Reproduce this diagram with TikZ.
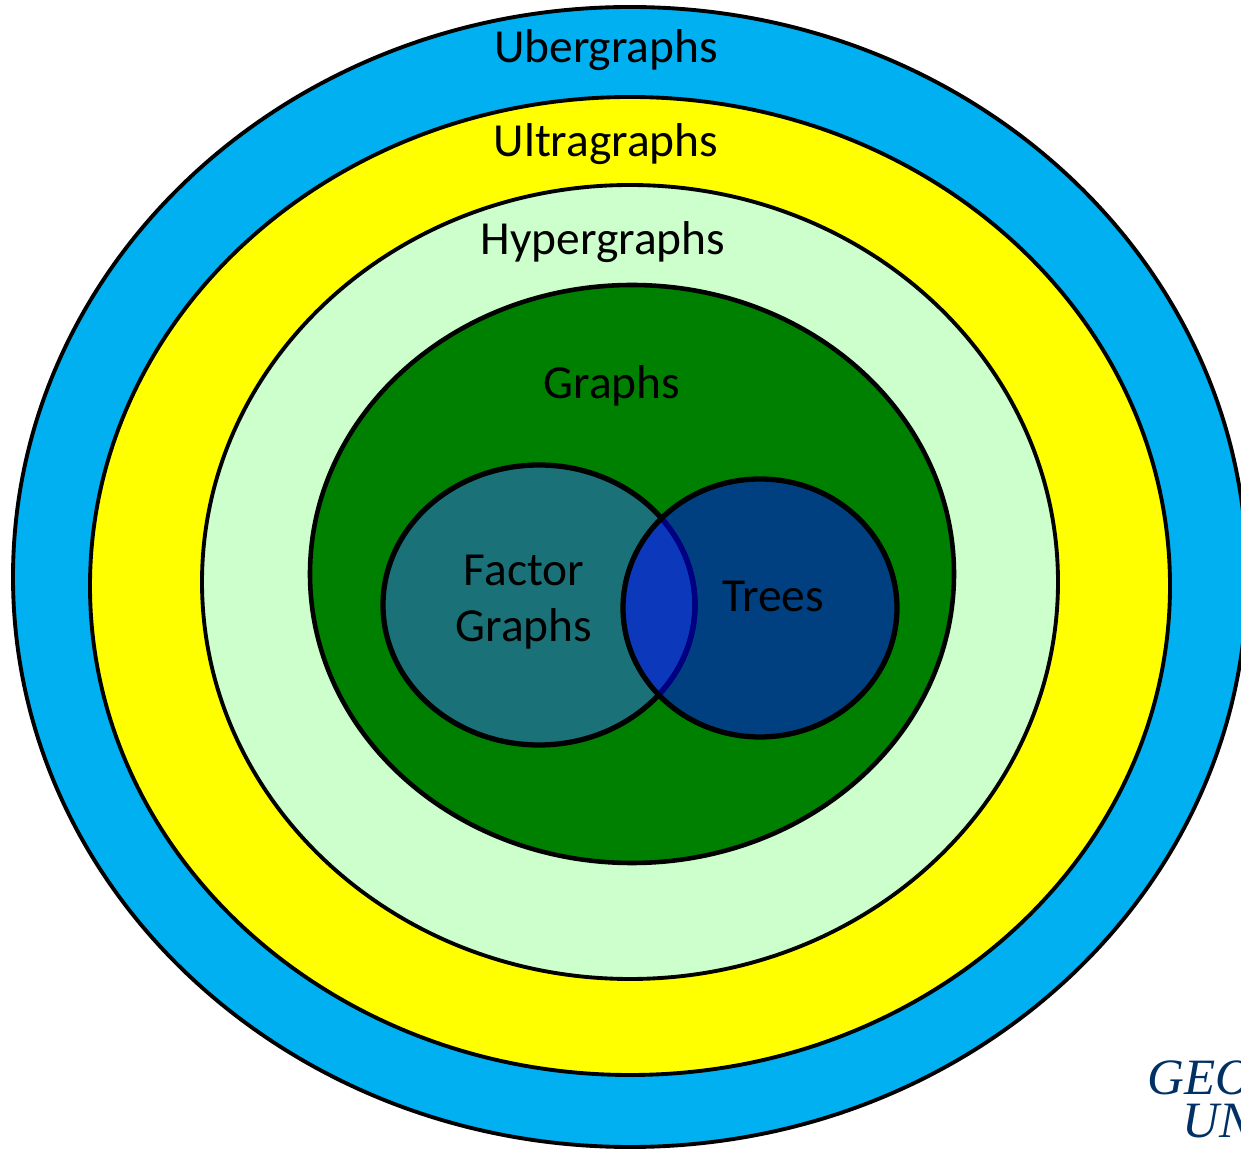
\documentclass[tikz,border=0pt]{standalone}
\usepackage{fontspec}
\setmainfont{Carlito}
\newfontfamily\logofont{Liberation Serif}
\definecolor{ubercolor}{RGB}{0, 176, 240}
\definecolor{ultracolor}{RGB}{255, 255, 0}
\definecolor{hypercolor}{RGB}{204, 255, 204}
\definecolor{graphcolor}{RGB}{0, 128, 0}
\definecolor{factorcolor}{RGB}{26, 114, 120}
\definecolor{logonavy}{RGB}{0, 48, 100}
\tikzset{
  setlabel/.style={font=\fontsize{27}{32}\selectfont, text=black, align=center, inner sep=0pt},
  logotext/.style={font=\logofont\itshape\fontsize{29}{30}\selectfont, text=logonavy, anchor=base west, inner sep=0pt}
}
\begin{document}
\begin{tikzpicture}
        \useasboundingbox (0,0) rectangle (24.82,23);
        % Nested sets, outermost first
        \fill[ubercolor, draw=black, line width=2.2pt] (12.6,11.46) ellipse (12.34cm and 11.4cm);
        \fill[ultracolor, draw=black, line width=2.2pt] (12.6,11.28) ellipse (10.8cm and 9.78cm);
        \fill[hypercolor, draw=black, line width=2.2pt] (12.6,11.36) ellipse (8.56cm and 7.94cm);
        \fill[graphcolor, draw=black, line width=2.6pt] (12.64,11.52) ellipse (6.44cm and 5.78cm);
        % Overlapping pair inside the graphs
        \fill[factorcolor, draw=black, line width=3pt] (10.78,10.9) ellipse (3.12cm and 2.8cm);
        \fill[blue, fill opacity=0.5] (15.2,10.84) ellipse (2.74cm and 2.58cm);
        \begin{scope}
          \clip (15.2,10.84) ellipse (2.74cm and 2.58cm);
          \draw[blue!50!black, line width=3pt] (10.78,10.9) ellipse (3.12cm and 2.8cm);
        \end{scope}
        \draw[black, line width=3pt] (15.2,10.84) ellipse (2.74cm and 2.58cm);
        % Labels
        \node[setlabel] (uber) at (12.12,22) {Ubergraphs};
        \node[setlabel] (ultra) at (12.12,20.12) {Ultragraphs};
        \node[setlabel] (hyper) at (12.06,18.16) {Hypergraphs};
        \node[setlabel] (graphs) at (12.24,15.28) {Graphs};
        \node[setlabel] (factor) at (10.48,10.96) {Factor\\Graphs};
        \node[setlabel] (trees) at (15.46,11.08) {Trees};
        % Logo cut off by the page edge
        \node[logotext] (geo) at (22.94,1.1) {GEO};
        \node[logotext] (uni) at (23.64,0.26) {UN};
\end{tikzpicture}
\end{document}
